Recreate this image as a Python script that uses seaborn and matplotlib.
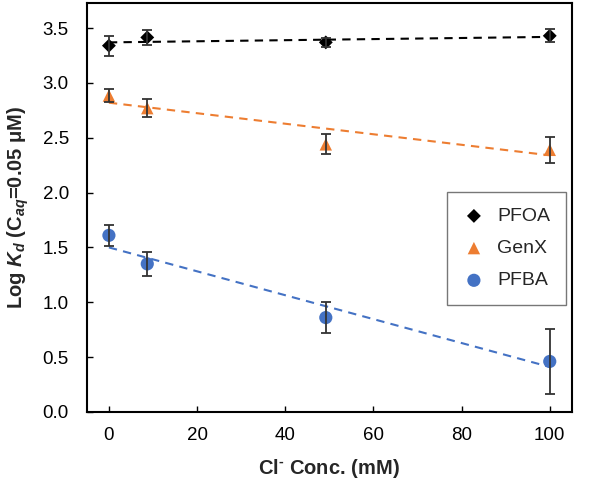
import numpy as np
import pandas as pd
import matplotlib
matplotlib.use("Agg")
import matplotlib.pyplot as plt
import seaborn as sns

# ---- data ----
conc = [0, 8.7, 49.2, 100]
pfoa = [3.34, 3.415, 3.37, 3.43]
pfoa_err = [0.09, 0.07, 0.04, 0.06]
genx = [2.885, 2.77, 2.44, 2.39]
genx_err = [0.06, 0.08, 0.09, 0.12]
pfba = [1.61, 1.35, 0.86, 0.46]
pfba_err = [0.095, 0.11, 0.145, 0.30]
fit_x = [0, 100]
pfoa_fit = [3.37, 3.42]
genx_fit = [2.82, 2.34]
pfba_fit = [1.50, 0.41]
series_names = ["PFOA", "GenX", "PFBA"]
colors = {"PFOA": "#000000", "GenX": "#ED7D31", "PFBA": "#4472C4"}
markers = {"PFOA": "D", "GenX": "^", "PFBA": "o"}
sizes = {"PFOA": 50, "GenX": 80, "PFBA": 90}
xticks = [0, 20, 40, 60, 80, 100]
yticks = [0.0, 0.5, 1.0, 1.5, 2.0, 2.5, 3.0, 3.5]

sns.set_style("ticks")
plt.rcParams["font.family"] = ["Liberation Sans", "DejaVu Sans"]
plt.rcParams["mathtext.fontset"] = "custom"
plt.rcParams["mathtext.rm"] = "Liberation Sans:bold"
plt.rcParams["mathtext.it"] = "Liberation Sans:bold:italic"
plt.rcParams["mathtext.bf"] = "Liberation Sans:bold"

fig = plt.figure(figsize=(5.95, 4.84), dpi=100)
ax = fig.add_axes([0.146, 0.149, 0.815, 0.845])

vals = {"PFOA": (pfoa, pfoa_err, pfoa_fit), "GenX": (genx, genx_err, genx_fit),
        "PFBA": (pfba, pfba_err, pfba_fit)}

rows = []
fitrows = []
for name in series_names:
    y, e, f = vals[name]
    for xi, yi, ei in zip(conc, y, e):
        rows.append({"conc": xi, "val": yi, "err": ei, "series": name})
    for xi, fi in zip(fit_x, f):
        fitrows.append({"conc": xi, "val": fi, "series": name})
df = pd.DataFrame(rows)
dff = pd.DataFrame(fitrows)

for name in series_names:
    sub = dff[dff.series == name]
    sns.lineplot(data=sub, x="conc", y="val", ax=ax, color=colors[name],
                 linestyle=(0, (4, 3)), linewidth=1.5, legend=False, zorder=1)

for name in series_names:
    sub = df[df.series == name]
    sns.scatterplot(data=sub, x="conc", y="val", ax=ax, color=colors[name],
                    marker=markers[name], s=sizes[name], edgecolor="none",
                    label=name, zorder=2)
    ax.errorbar(sub.conc, sub.val, yerr=sub.err, fmt="none", ecolor="#333333",
                elinewidth=1.3, capsize=3.5, capthick=1.3, zorder=3)

ax.set_xlim(-5, 105)
ax.set_ylim(0, 3.73)
ax.set_xticks(xticks)
ax.set_yticks(yticks)
ax.set_yticklabels([f"{t:.1f}" for t in yticks])
ax.tick_params(direction="in", length=4, width=1, labelsize=13.5, colors="black")
ax.tick_params(axis="x", pad=11)
ax.tick_params(axis="y", pad=13)
for sp in ax.spines.values():
    sp.set_visible(True)
    sp.set_linewidth(1.5)
    sp.set_color("black")

ax.set_xlabel(r"Cl$^{\text{-}}$ Conc. (mM)", fontsize=14.5, fontweight="bold", labelpad=9)
ax.set_ylabel(r"Log $K_d$ ($\mathrm{C}_{aq}$=0.05 μM)", fontsize=14.5, fontweight="bold", labelpad=8)

leg = ax.legend(loc="upper left", bbox_to_anchor=(0.742, 0.538), frameon=True, fancybox=False,
                edgecolor="#555555", fontsize=14, labelspacing=0.75, borderpad=0.8,
                handletextpad=0.6, handlelength=1.2, borderaxespad=0)
leg.get_frame().set_linewidth(1.0)

fig.savefig("out.png", dpi=100)
